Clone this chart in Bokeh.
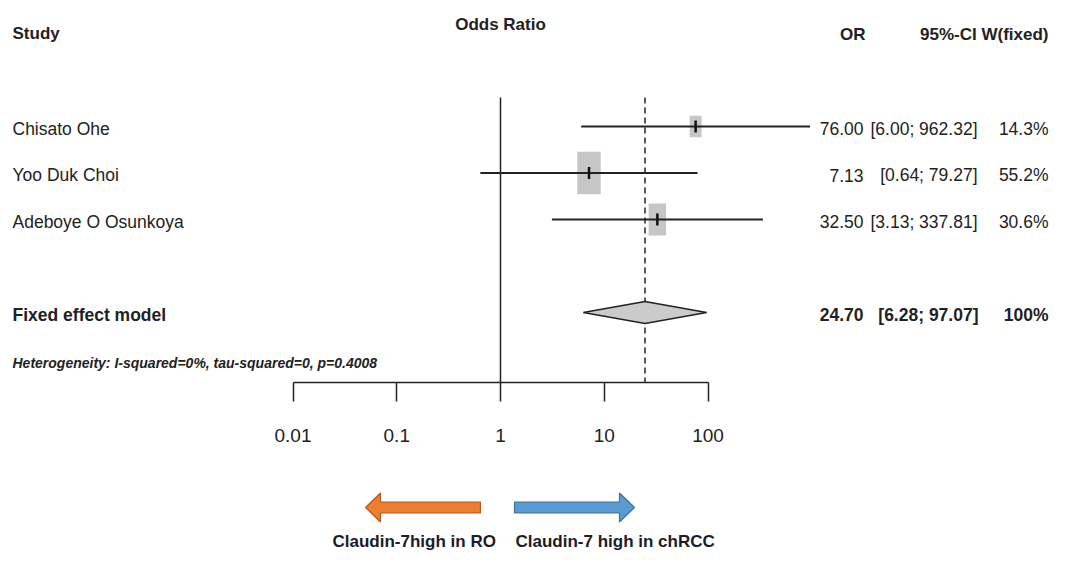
import math
from bokeh.plotting import figure
from bokeh.models import Range1d, FixedTicker
from bokeh.layouts import column
from bokeh.core.properties import value
from bokeh.embed import file_html
from bokeh.resources import INLINE

# ---------------- data ----------------
studies = ["Chisato Ohe", "Yoo Duk Choi", "Adeboye O Osunkoya"]
odds_ratio = [76.00, 7.13, 32.50]
ci_lower = [6.00, 0.64, 3.13]
ci_upper = [962.32, 79.27, 337.81]
weight_fixed = [14.3, 55.2, 30.6]
or_text = ["76.00", "7.13", "32.50"]
ci_text = ["[6.00; 962.32]", "[0.64; 79.27]", "[3.13; 337.81]"]
w_text = ["14.3%", "55.2%", "30.6%"]

summary_label = "Fixed effect model"
summary_or = 24.70
summary_lower = 6.28
summary_upper = 97.07
summary_texts = ["24.70", "[6.28; 97.07]", "100%"]
heterogeneity = "Heterogeneity: I-squared=0%, tau-squared=0, p=0.4008"

tick_values = [0.01, 0.1, 1, 10, 100]
tick_labels = ["0.01", "0.1", "1", "10", "100"]

arrow_labels = ["Claudin-7high in RO", "Claudin-7 high in chRCC"]

# ---------------- layout helpers ----------------
FONT = "Liberation Sans"
TXT = "#222222"
W = 1051
PX_ONE = 500.0      # pixel of OR = 1
PX_DEC = 103.75     # pixels per decade
ROW1 = 126.0
ROW_H = 46.5
AXIS_Y = 382
TOP_H = 458


def X(px):
    return 10 ** ((px - PX_ONE) / PX_DEC)


def Y(py):
    return 1 + (py - ROW1) / ROW_H


rows = [1, 2, 3]
summary_row = 5

p = figure(width=W, height=TOP_H, x_axis_type="log",
           x_range=Range1d(X(0), X(W)),
           y_range=Range1d(Y(AXIS_Y), Y(0)),
           output_backend="svg", toolbar_location=None,
           y_axis_location=None,
           min_border_left=0, min_border_right=0, min_border_top=0,
           min_border_bottom=TOP_H - AXIS_Y)
p.outline_line_color = None
p.grid.visible = False

# axis
ax = p.xaxis[0]
ax.ticker = FixedTicker(ticks=tick_values)
ax.major_label_overrides = {v: s for v, s in zip(tick_values, tick_labels)}
ax.bounds = (tick_values[0], tick_values[-1])
ax.major_tick_out = 19
ax.major_tick_in = 0
ax.minor_tick_out = 0
ax.minor_tick_in = 0
ax.axis_line_width = 1.5
ax.axis_line_color = TXT
ax.major_tick_line_width = 1.5
ax.major_tick_line_color = TXT
ax.major_label_standoff = 27
ax.major_label_text_font = FONT
ax.major_label_text_font_size = "19px"
ax.major_label_text_color = TXT

# reference lines
p.segment(x0=[1], x1=[1], y0=[Y(97)], y1=[Y(AXIS_Y)], line_color=TXT, line_width=1.5)
p.segment(x0=[summary_or], x1=[summary_or], y0=[Y(97)], y1=[Y(AXIS_Y)],
          line_color=TXT, line_width=1.5, line_dash="6 4")

# study boxes (area ~ weight)
bw = [3.15 * math.sqrt(w) for w in weight_fixed]
bh = [5.75 * math.sqrt(w) for w in weight_fixed]
p.rect(x=odds_ratio, y=rows, width=bw, height=bh, width_units="screen",
       height_units="screen", fill_color="#c6c6c6", line_color=None)
# CIs
p.segment(x0=ci_lower, x1=ci_upper, y0=rows, y1=rows, line_color=TXT, line_width=2.2)
p.rect(x=odds_ratio, y=rows, width=2.5, height=12, width_units="screen",
       height_units="screen", fill_color="#111111", line_color=None)

# diamond
d = 11 / ROW_H
p.patch(x=[summary_lower, summary_or, summary_upper, summary_or],
        y=[summary_row, summary_row - d, summary_row, summary_row + d],
        fill_color="#cbcbcb", line_color=TXT, line_width=1.6)

# header texts
hdr = dict(text_font=value(FONT), text_font_style="bold", text_font_size="17px",
           text_baseline="middle", text_color=TXT)
p.text(x=[X(12)], y=[Y(33)], text=["Study"], text_align="left", **hdr)
p.text(x=[X(500)], y=[Y(24)], text=["Odds Ratio"], text_align="center", **hdr)
p.text(x=[X(865)], y=[Y(34)], text=["OR"], text_align="right", **hdr)
p.text(x=[X(1048)], y=[Y(34)], text=["95%-CI W(fixed)"], text_align="right", **hdr)

# study rows
common = dict(text_font=value(FONT), text_font_size="17.5px", text_baseline="middle",
              text_color=TXT, y_offset=2)
p.text(x=[X(12)] * 3, y=rows, text=studies, text_align="left", **common)
p.text(x=[X(863)] * 3, y=rows, text=or_text, text_align="right", **common)
p.text(x=[X(977)] * 3, y=rows, text=ci_text, text_align="right", **common)
p.text(x=[X(1048)] * 3, y=rows, text=w_text, text_align="right", **common)

# summary row
bold = dict(common, text_font_style="bold")
p.text(x=[X(12)], y=[summary_row], text=[summary_label], text_align="left", **bold)
p.text(x=[X(863)], y=[summary_row], text=[summary_texts[0]], text_align="right", **bold)
p.text(x=[X(978)], y=[summary_row], text=[summary_texts[1]], text_align="right", **bold)
p.text(x=[X(1048)], y=[summary_row], text=[summary_texts[2]], text_align="right", **bold)

p.text(x=[X(12)], y=[Y(362)], text=[heterogeneity], text_font=value(FONT),
       text_font_style="bold italic", text_font_size="14px", text_align="left",
       text_baseline="middle", text_color=TXT)

# ---------------- arrows panel ----------------
BOT_H = 94
q = figure(width=W, height=BOT_H, x_range=Range1d(0, W), y_range=Range1d(TOP_H + BOT_H, TOP_H),
           output_backend="svg", toolbar_location=None,
           x_axis_location=None, y_axis_location=None, min_border=0)
q.outline_line_color = None
q.grid.visible = False


def arrow_poly(tail, tip, yc, head_len=15, head_half=14.5, shaft_half=5.5):
    s = 1 if tip > tail else -1
    hb = tip - s * head_len
    xs = [tail, hb, hb, tip, hb, hb, tail]
    ys = [yc - shaft_half, yc - shaft_half, yc - head_half, yc, yc + head_half,
          yc + shaft_half, yc + shaft_half]
    return xs, ys


ox, oy = arrow_poly(480, 365, 507)
bx, by = arrow_poly(514, 634, 507)
q.patches(xs=[ox, bx], ys=[oy, by], fill_color=["#ED7D31", "#5B9BD5"],
          line_color=["#AE5A21", "#41719C"], line_width=1.2)
q.text(x=[332, 515], y=[541, 541], text=arrow_labels, text_font=value(FONT),
       text_font_style="bold", text_font_size="17px", text_align="left",
       text_baseline="middle", text_color="#1c1c28")

layout = column(p, q, spacing=0)
open("out.html", "w").write(file_html(layout, INLINE))
